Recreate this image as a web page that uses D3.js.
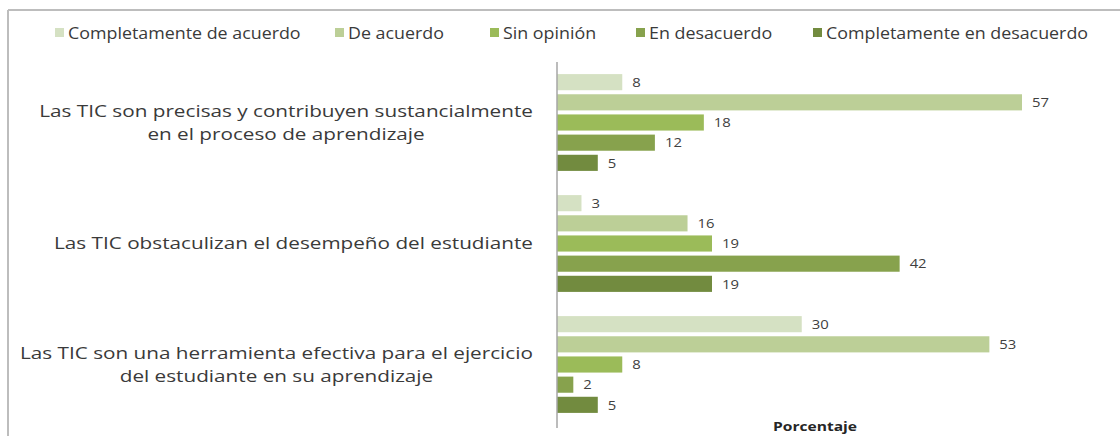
<!DOCTYPE html>
<html>
<head>
<meta charset="utf-8">
<script src="https://cdn.jsdelivr.net/npm/d3@7"></script>
<style>
  html, body { margin: 0; padding: 0; background: #fff; }
  svg { display: block; }
  text { font-family: "Open Sans", "Noto Sans", sans-serif; }
</style>
</head>
<body>
<svg id="chart" width="1120" height="436"></svg>
<script>
const categories = [
  "Las TIC son precisas y contribuyen sustancialmente\nen el proceso de aprendizaje",
  "Las TIC obstaculizan el desempeño del estudiante",
  "Las TIC son una herramienta efectiva para el ejercicio\ndel estudiante en su aprendizaje"
];
const seriesNames = [
  "Completamente de acuerdo",
  "De acuerdo",
  "Sin opinión",
  "En desacuerdo",
  "Completamente en desacuerdo"
];
const completamenteDeAcuerdo = [8, 3, 30];
const deAcuerdo = [57, 16, 53];
const sinOpinion = [18, 19, 8];
const enDesacuerdo = [12, 42, 2];
const completamenteEnDesacuerdo = [5, 19, 5];
const seriesValues = [completamenteDeAcuerdo, deAcuerdo, sinOpinion, enDesacuerdo, completamenteEnDesacuerdo];
const colors = ["#d5e1c3", "#bccf97", "#9bbb59", "#87a24d", "#728b3f"];
const axisTitle = "Porcentaje";

const svg = d3.select("#chart");
const W = 1120, H = 436;
const plot = { left: 557, top: 62, bottom: 425 };
const stretch = 1.13; // horizontal stretch of the source picture's text

// frame
svg.append("line").attr("x1", 8).attr("x2", W).attr("y1", 10).attr("y2", 10)
  .attr("stroke", "#bdbdbd").attr("stroke-width", 2);
svg.append("line").attr("x1", 8).attr("x2", 8).attr("y1", 10).attr("y2", H)
  .attr("stroke", "#bdbdbd").attr("stroke-width", 2);

const x = d3.scaleLinear().domain([0, 57]).range([plot.left, 1022]);
const y0 = d3.scaleBand().domain(categories).range([plot.top, plot.bottom]).padding(0);
const y1 = d3.scaleBand().domain(seriesNames).range([0, y0.bandwidth()])
  .paddingInner(0.2).paddingOuter(0.6);

const data = [];
categories.forEach((c, ci) => {
  seriesNames.forEach((s, si) => {
    data.push({ cat: c, series: s, si, value: seriesValues[si][ci] });
  });
});

const g = svg.append("g");
g.selectAll("rect.bar").data(data).join("rect")
  .attr("class", "bar")
  .attr("x", x(0))
  .attr("y", d => y0(d.cat) + y1(d.series))
  .attr("width", d => x(d.value) - x(0))
  .attr("height", y1.bandwidth())
  .attr("fill", d => colors[d.si]);

g.selectAll("text.val").data(data).join("text")
  .attr("class", "val")
  .attr("transform", d => `translate(${x(d.value) + 10},${y0(d.cat) + y1(d.series) + y1.bandwidth() / 2}) scale(1.1,1)`)
  .attr("dy", "0.35em")
  .attr("font-size", 13.5)
  .attr("fill", "#404040")
  .text(d => d.value);

// axis line
svg.append("line").attr("x1", plot.left).attr("x2", plot.left)
  .attr("y1", plot.top).attr("y2", 428)
  .attr("stroke", "#a6a6a6").attr("stroke-width", 1.5);

// category labels (one text element per line)
const labelRight = 533;
const labelStretch = 1.255;
const labelSize = 16.5;
categories.forEach(c => {
  const lines = c.split("\n");
  const cy = y0(c) + y0.bandwidth() / 2;
  const lh = 23;
  const gl = svg.append("g");
  const texts = lines.map((ln, i) => gl.append("text")
    .attr("font-size", labelSize).attr("fill", "#3a3a3a")
    .attr("text-anchor", "middle")
    .attr("x", 0)
    .attr("y", cy + (i - (lines.length - 1) / 2) * lh)
    .attr("dy", "0.35em").text(ln));
  let maxW = 0;
  texts.forEach(s => { maxW = Math.max(maxW, s.node().getComputedTextLength()); });
  gl.attr("transform", `translate(${labelRight - maxW * labelStretch / 2},0) scale(${labelStretch},1)`);
});

// legend
const legendX = [55, 335, 490, 636, 813];
const lg = svg.append("g");
seriesNames.forEach((s, i) => {
  lg.append("rect").attr("x", legendX[i]).attr("y", 28).attr("width", 9).attr("height", 9)
    .attr("fill", colors[i]);
  lg.append("text").attr("transform", `translate(${legendX[i] + 13},33) scale(${stretch},1)`)
    .attr("dy", "0.35em")
    .attr("font-size", 15.8).attr("fill", "#3a3a3a").text(s);
});

// axis title
svg.append("text").attr("transform", "translate(815,426) scale(1.2,1)").attr("dy", "0.35em")
  .attr("text-anchor", "middle").attr("font-size", 13).attr("font-weight", "bold")
  .attr("fill", "#262626").text(axisTitle);
</script>
</body>
</html>
